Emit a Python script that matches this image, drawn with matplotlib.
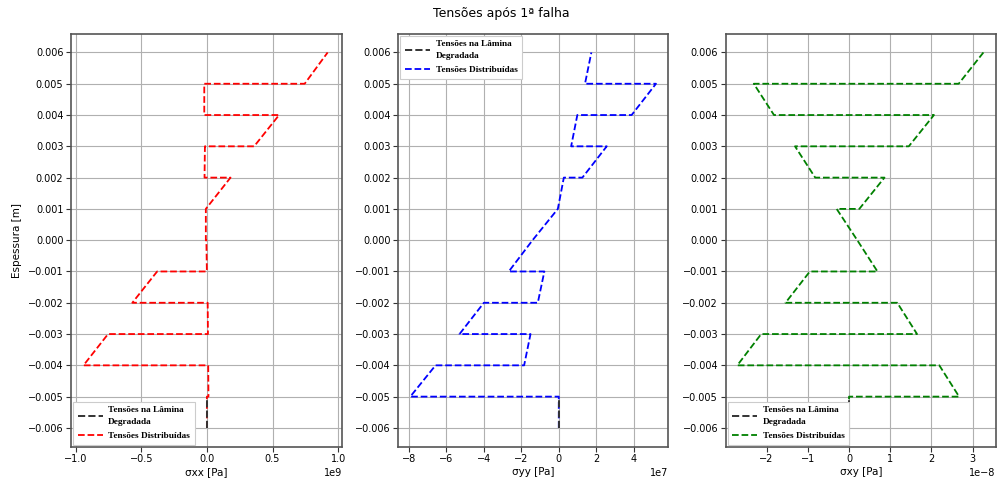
import matplotlib
matplotlib.use("Agg")
import matplotlib.pyplot as plt
from matplotlib.ticker import MultipleLocator

# Layer interfaces (bottom to top)
z_interfaces = [-0.006, -0.005, -0.004, -0.003, -0.002, -0.001, 0.0,
                0.001, 0.002, 0.003, 0.004, 0.005, 0.006]

# Stresses per layer: (bottom, top) values
sxx_bottom = [0.0, 0.012e9, -0.94e9, 0.008e9, -0.568e9, 0.0, -0.008e9,
              -0.008e9, -0.018e9, 0.36e9, -0.02e9, 0.745e9]
sxx_top = [0.0, 0.010e9, -0.753e9, 0.006e9, -0.379e9, -0.004e9, -0.008e9,
           0.18e9, -0.015e9, 0.55e9, -0.02e9, 0.92e9]

syy_bottom = [0.0, -7.93e7, -1.85e7, -5.30e7, -1.12e7, -2.67e7, -1.40e7,
              -0.05e7, 1.26e7, 0.66e7, 3.89e7, 1.40e7]
syy_top = [0.0, -6.58e7, -1.51e7, -4.00e7, -0.77e7, -1.40e7, -0.05e7,
           0.27e7, 2.56e7, 0.99e7, 5.19e7, 1.74e7]

sxy_bottom = [0.0, 2.67e-8, -2.71e-8, 1.65e-8, -1.54e-8, 0.69e-8, 0.20e-8,
              0.25e-8, -0.82e-8, 1.45e-8, -1.82e-8, 2.66e-8]
sxy_top = [0.0, 2.19e-8, -2.13e-8, 1.17e-8, -0.95e-8, 0.20e-8, -0.30e-8,
           0.86e-8, -1.31e-8, 2.06e-8, -2.31e-8, 3.26e-8]

degraded_layer = 0

xlabels = ["σxx [Pa]", "σyy [Pa]", "σxy [Pa]"]
x_tick_steps = [0.5e9, 2e7, 1e-8]
xlims = [(-1.035e9, 1.03e9), (-8.57e7, 5.85e7), (-2.99e-8, 3.56e-8)]
colors = ["red", "blue", "green"]
legend_locs = ["lower left", "upper left", "lower left"]
title = "Tensões após 1ª falha"
ylabel = "Espessura [m]"
label_degr = "Tensões na Lâmina\nDegradada"
label_dist = "Tensões Distribuídas"


def profile(bottom, top):
    xs, zs = [], []
    for i in range(len(bottom)):
        xs += [bottom[i], top[i]]
        zs += [z_interfaces[i], z_interfaces[i + 1]]
    return xs, zs


plt.rcParams['font.size'] = 7
fig = plt.figure(figsize=(10.02, 4.84), dpi=100)
positions = [[0.0709, 0.0771, 0.2705, 0.8533],
             [0.3975, 0.0771, 0.2695, 0.8533],
             [0.7243, 0.0771, 0.2695, 0.8533]]
data = [(sxx_bottom, sxx_top), (syy_bottom, syy_top), (sxy_bottom, sxy_top)]

for k in range(3):
    ax = fig.add_axes(positions[k])
    b, t = data[k]
    xs, zs = profile(b, t)
    d = degraded_layer
    ax.plot([b[d], t[d]], [z_interfaces[d], z_interfaces[d + 1]], '--',
            color='#333333', lw=1.4, label=label_degr, zorder=3)
    ax.plot(xs, zs, '--', color=colors[k], lw=1.3, label=label_dist, zorder=2)
    ax.set_xlim(*xlims[k])
    ax.set_ylim(-0.0066, 0.0066)
    ax.xaxis.set_major_locator(MultipleLocator(x_tick_steps[k]))
    ax.yaxis.set_major_locator(MultipleLocator(0.001))
    ax.grid(True, color='#b0b0b0', lw=0.8)
    ax.set_xlabel(xlabels[k], fontsize=7.5, labelpad=2)
    if k == 0:
        ax.set_ylabel(ylabel, fontsize=7.5)
    ax.tick_params(labelsize=7, length=3.5, color='#333333', pad=2)
    ax.xaxis.get_offset_text().set_fontsize(7)
    for s in ax.spines.values():
        s.set_edgecolor('#555555')
        s.set_linewidth(1.2)
    leg = ax.legend(loc=legend_locs[k], fancybox=False, framealpha=1,
                    borderaxespad=0.2, handlelength=2.7, handletextpad=0.6,
                    labelspacing=0.6, borderpad=0.5,
                    prop={'family': 'Liberation Serif', 'weight': 'bold', 'size': 6.7})
    for txt in leg.get_texts():
        txt.set_linespacing(1.6)
    leg.get_frame().set_edgecolor('#cccccc')
    leg.get_frame().set_linewidth(0.8)

fig.suptitle(title, fontsize=9, y=0.985)
fig.savefig("out.png", dpi=100)
